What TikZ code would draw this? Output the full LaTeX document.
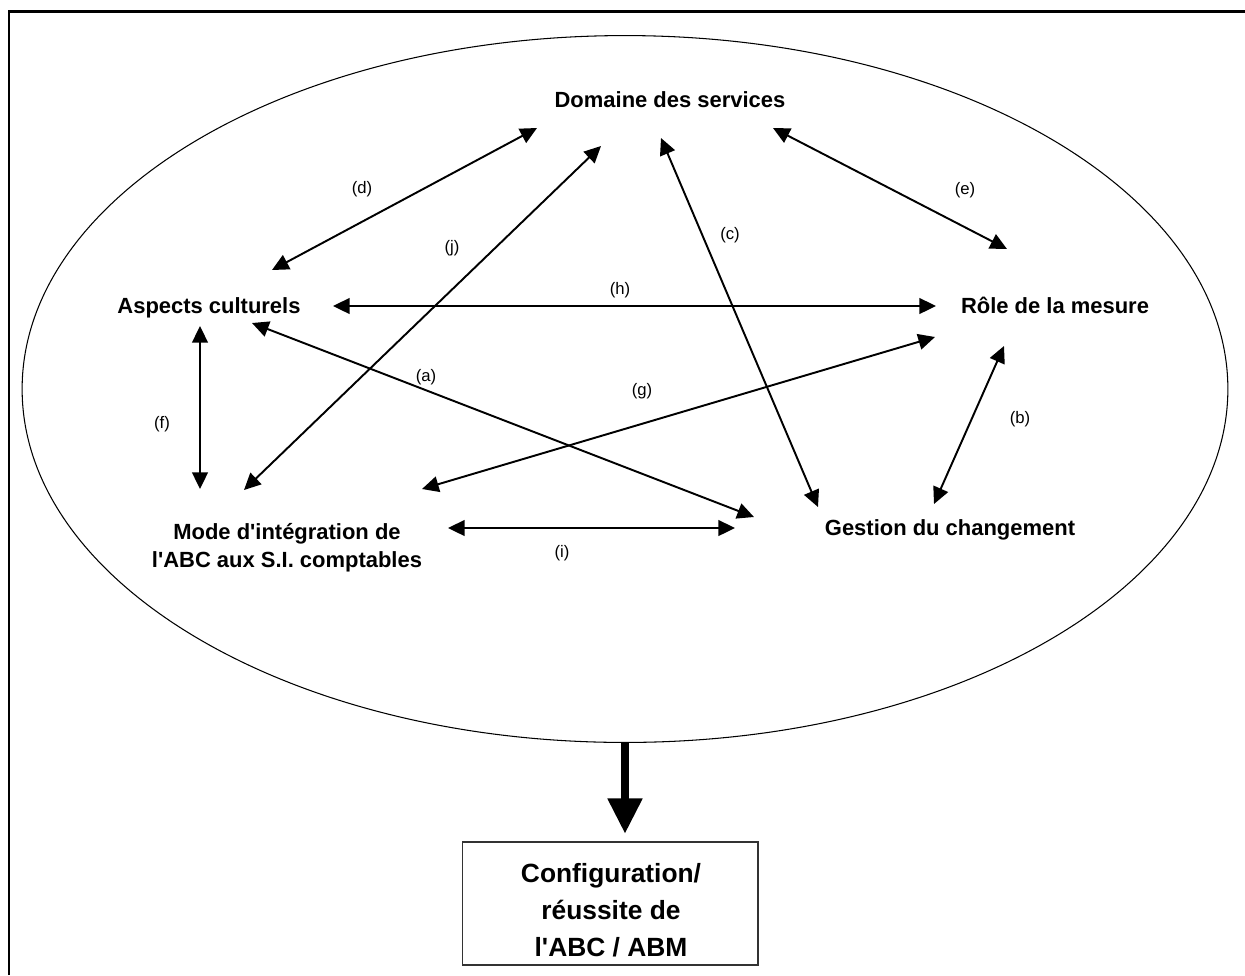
\documentclass[tikz,border=0pt]{standalone}
\usepackage{fontspec}
\setmainfont{Liberation Sans}
\usetikzlibrary{arrows.meta,shapes.geometric}
\tikzset{
  theme/.style={font=\fontsize{12.5}{16}\selectfont\bfseries,align=center},
  lbl/.style={font=\fontsize{9.5}{11}\selectfont},
  link/.style={{Triangle[length=9.5pt,width=9pt]}-{Triangle[length=9.5pt,width=9pt]},line width=1.1pt},
}
\begin{document}
\begin{tikzpicture}[x=0.02cm,y=-0.02cm]
\useasboundingbox (0,0) rectangle (1245,975);
\draw[line width=1.7pt] (9,975)--(9,11)--(1245,11);
\node[ellipse,draw,line width=0.6pt,minimum width=24.12cm,minimum height=14.14cm,inner sep=0pt] (zone) at (625,389) {};
% themes
\node[theme] (dom) at (670,100) {Domaine des services};
\node[theme] (asp) at (209,308) {Aspects culturels};
\node[theme] (role) at (1055,305) {Rôle de la mesure};
\node[theme] (gest) at (950,530) {Gestion du changement};
\node[theme] (mode) at (287,548) {Mode d\textquotesingle intégration de\\l\textquotesingle ABC aux S.I. comptables};
% links
\foreach \n/\p/\q in {d/{272,270}/{537,128}, j/{244,490}/{601,146}, c/{661,138}/{818,507},
  e/{773,128}/{1007,249}, h/{333,306}/{936,306}, g/{422,489}/{935,337}, a/{252,323}/{754,517},
  f/{200,326}/{200,489}, b/{1004,346}/{934,504}, i/{448,528}/{735,528}}{
  \coordinate (\n1) at (\p);
  \coordinate (\n2) at (\q);
  \draw[link] (\n1) -- (\n2);
}
\node[lbl] (ld) at (362,189) {(d)};
\node[lbl] (lj) at (452,248) {(j)};
\node[lbl] (lc) at (730,235) {(c)};
\node[lbl] (le) at (965,190) {(e)};
\node[lbl] (lh) at (620,290) {(h)};
\node[lbl] (la) at (426,377) {(a)};
\node[lbl] (lg) at (642,391) {(g)};
\node[lbl] (lf) at (162,424) {(f)};
\node[lbl] (lb) at (1020,419) {(b)};
\node[lbl] (li) at (562,553) {(i)};
% result
\node[draw=black!80,line width=0.6pt,minimum width=5.92cm,minimum height=2.46cm,inner sep=0pt] (res) at (610,903.5) {};
\node[font=\fontsize{15}{21}\selectfont\bfseries,align=center] (restxt) at (611,910)
  {Configuration/\\réussite de\\l\textquotesingle ABC / ABM};
\draw[line width=4pt,-{Triangle[length=20pt,width=19pt]},shorten >=4.5pt] (zone.south) -- (zone.south |- res.north);
\end{tikzpicture}
\end{document}
